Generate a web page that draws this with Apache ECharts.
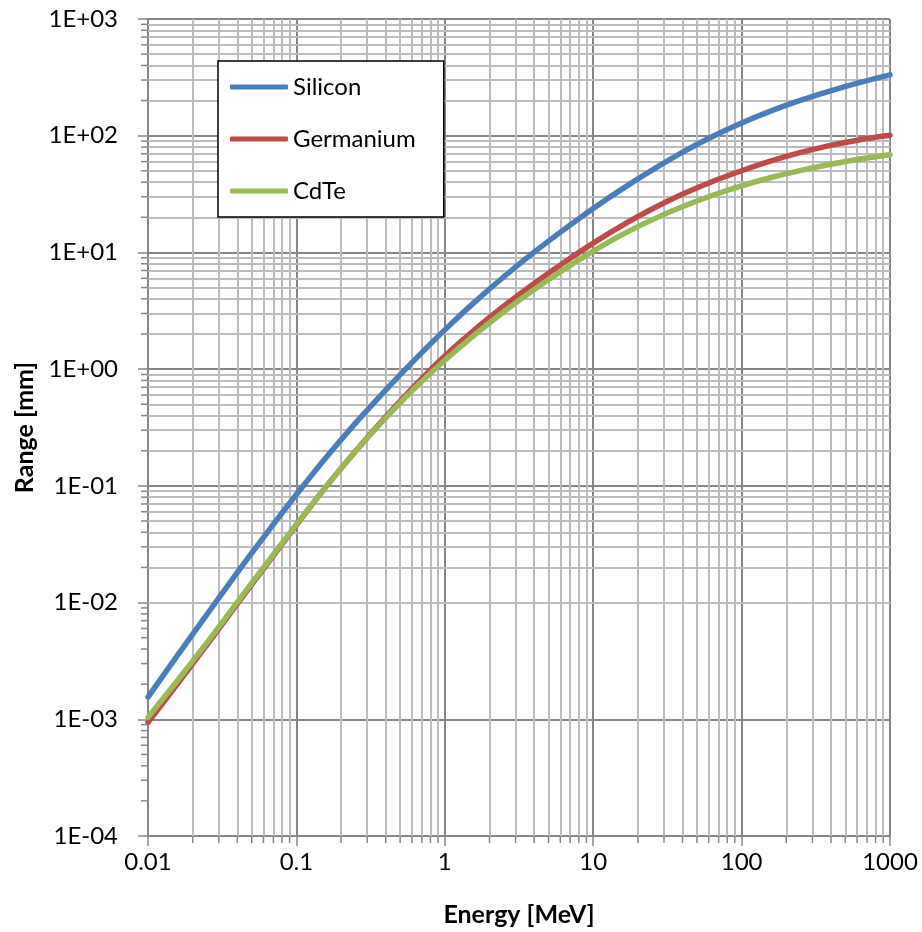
<!DOCTYPE html>
<html><head><meta charset="utf-8">
<script src="https://cdn.jsdelivr.net/npm/echarts@6/dist/echarts.min.js"></script>
<style>html,body{margin:0;padding:0;background:#fff}#c{width:922px;height:932px}</style>
</head><body><div id="c"></div>
<script>
// Energy [MeV]
const energies = [0.01, 0.0158, 0.0251, 0.0398, 0.0631, 0.1, 0.158, 0.251, 0.398, 0.631,
                  1, 1.58, 2.51, 3.98, 6.31, 10, 15.8, 25.1, 39.8, 63.1,
                  100, 158, 251, 398, 631, 1000];
// Range [mm]
const silicon   = [1.55e-3, 3.53e-3, 8.0e-3, 0.0180, 0.0394, 0.0843, 0.174, 0.346, 0.659, 1.213,
                   2.17, 3.73, 6.22, 10.0, 15.6, 23.8, 35.2, 50.9, 71.9, 97.9,
                   128.5, 163.3, 201.8, 242.7, 286.4, 331.9];
const germanium = [9.4e-4, 2.01e-3, 4.39e-3, 9.68e-3, 0.0212, 0.0461, 0.0980, 0.199, 0.388, 0.726,
                   1.297, 2.163, 3.475, 5.383, 8.147, 12.02, 17.14, 23.66, 31.48, 40.36,
                   50.1, 60.8, 71.9, 82.6, 92.5, 100.9];
const cdte      = [1.038e-3, 2.148e-3, 4.57e-3, 0.0100, 0.0217, 0.0468, 0.0984, 0.198, 0.380, 0.692,
                   1.191, 1.959, 3.119, 4.786, 7.112, 10.26, 14.29, 19.10, 24.60, 30.76,
                   37.24, 43.85, 50.47, 56.89, 63.10, 68.71];

const seriesNames = ['Silicon', 'Germanium', 'CdTe'];
const seriesValues = [silicon, germanium, cdte];
const seriesColors = ['#4a7ebb', '#be4b48', '#98b954'];

const xTickLabels = ['0.01', '0.1', '1', '10', '100', '1000'];
const yTickLabels = ['1E-04', '1E-03', '1E-02', '1E-01', '1E+00', '1E+01', '1E+02', '1E+03'];
const xMinExp = -2, xMaxExp = 3, yMinExp = -4, yMaxExp = 3;
const minorFactors = [2, 3, 4, 5, 6, 7, 8, 9];

function minorValues(e0, e1) {
  const out = [];
  for (let e = e0; e < e1; e++) {
    for (const k of minorFactors) out.push(Number((k * Math.pow(10, e)).toPrecision(4)));
  }
  return out;
}
const xMinor = minorValues(xMinExp, xMaxExp);
const yMinor = minorValues(yMinExp, yMaxExp);

const FONT = 'Lato';
const AXIS_COLOR = '#868686';

const chart = echarts.init(document.getElementById('c'), null, { renderer: 'canvas' });

const lineSeries = seriesNames.map((name, i) => ({
  name: name,
  type: 'line',
  data: energies.map((e, j) => [e, seriesValues[i][j]]),
  showSymbol: false,
  smooth: 0.3,
  lineStyle: { color: seriesColors[i], width: 5.5, cap: 'round', join: 'round' },
  itemStyle: { color: seriesColors[i] },
  z: 5,
  animation: false
}));

const gridSeries = {
  name: '_grid',
  type: 'line',
  data: [],
  silent: true,
  z: 1,
  animation: false,
  markLine: {
    silent: true,
    symbol: ['none', 'none'],
    label: { show: false },
    lineStyle: { color: '#bcbcbc', width: 2, type: 'solid' },
    emphasis: { disabled: true },
    animation: false,
    data: xMinor.map(v => ({ xAxis: v })).concat(yMinor.map(v => ({ yAxis: v })))
  }
};

chart.setOption({
  backgroundColor: '#fff',
  animation: false,
  grid: { left: 148, right: 32, top: 19, bottom: 96, containLabel: false },
  legend: {
    data: seriesNames,
    z: 20,
    orient: 'vertical',
    left: 218, top: 61,
    padding: [13, 28, 13, 12],
    itemGap: 26,
    itemWidth: 58,
    itemHeight: 5,
    icon: 'roundRect',
    textStyle: { fontFamily: FONT, fontSize: 24, color: '#000', lineHeight: 26 },
    backgroundColor: '#fff',
    borderColor: '#000',
    borderWidth: 1.5,
    borderRadius: 0,
    selectedMode: false
  },
  xAxis: {
    type: 'log', logBase: 10, min: 0.01, max: 1000, splitNumber: 5,
    z: 3,
    name: 'Energy [MeV]', nameLocation: 'middle', nameGap: 66,
    nameTextStyle: { fontFamily: FONT, fontSize: 25, fontWeight: 'bold', color: '#000' },
    axisLine: { show: true, lineStyle: { color: AXIS_COLOR, width: 2 } },
    axisTick: { show: true, inside: false, length: 10, lineStyle: { color: AXIS_COLOR, width: 1.5 } },
    axisLabel: {
      fontFamily: FONT, fontSize: 24, color: '#000', margin: 14,
      formatter: v => xTickLabels[Math.round(Math.log10(v)) - xMinExp]
    },
    splitLine: { show: true, lineStyle: { color: '#868686', width: 2 } },
    minorTick: { show: false }, minorSplitLine: { show: false }
  },
  yAxis: {
    type: 'log', logBase: 10, min: 1e-4, max: 1000, splitNumber: 7,
    z: 3,
    name: 'Range [mm]', nameLocation: 'middle', nameGap: 110, nameRotate: 90,
    nameTextStyle: { fontFamily: FONT, fontSize: 25, fontWeight: 'bold', color: '#000' },
    axisLine: { show: true, lineStyle: { color: AXIS_COLOR, width: 2 } },
    axisTick: { show: true, inside: false, length: 10, lineStyle: { color: AXIS_COLOR, width: 1.5 } },
    axisLabel: {
      fontFamily: FONT, fontSize: 24, color: '#000', margin: 30,
      formatter: v => yTickLabels[Math.round(Math.log10(v)) - yMinExp]
    },
    splitLine: { show: true, lineStyle: { color: '#868686', width: 2 } },
    minorTick: { show: false }, minorSplitLine: { show: false }
  },
  series: [gridSeries].concat(lineSeries)
});

// minor tick marks on the axes, positioned through the chart's own scales
const xmin = Math.pow(10, xMinExp), ymin = Math.pow(10, yMinExp);
const graphics = [];
xMinor.forEach(v => {
  const p = chart.convertToPixel({ gridIndex: 0 }, [v, ymin]);
  graphics.push({ type: 'line', silent: true, z: 10,
    shape: { x1: p[0], y1: p[1], x2: p[0], y2: p[1] + 7 },
    style: { stroke: AXIS_COLOR, lineWidth: 1.5 } });
});
yMinor.forEach(v => {
  const p = chart.convertToPixel({ gridIndex: 0 }, [xmin, v]);
  graphics.push({ type: 'line', silent: true, z: 10,
    shape: { x1: p[0] - 7, y1: p[1], x2: p[0], y2: p[1] },
    style: { stroke: AXIS_COLOR, lineWidth: 1.5 } });
});
chart.setOption({ graphic: graphics });
</script>
</body></html>
